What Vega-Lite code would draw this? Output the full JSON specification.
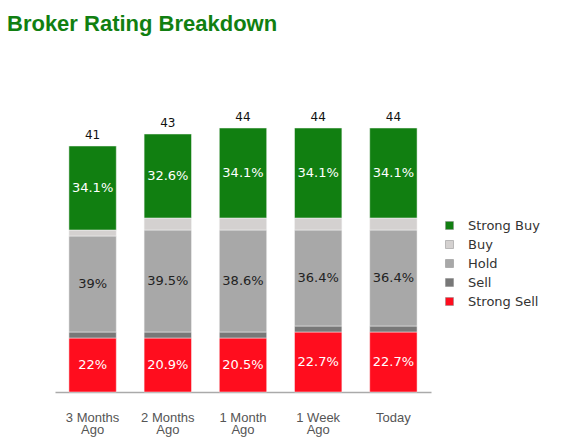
{
  "$schema": "https://vega.github.io/schema/vega-lite/v6.json",
  "autosize": {"type": "none"},
  "padding": {"left": 55, "top": 128, "right": 142, "bottom": 46},
  "width": 376,
  "height": 264,
  "background": "white",
  "view": {"stroke": null},
  "title": {
    "text": "Broker Rating Breakdown",
    "anchor": "start",
    "frame": "group",
    "font": "Liberation Sans",
    "fontSize": 22,
    "fontWeight": "bold",
    "color": "#117f11",
    "dx": -48,
    "offset": 75
  },
  "data": {
    "values": [
      {"period": "3 Months Ago", "rating": "Strong Sell", "rank": 1, "count": 9, "label": "22%"},
      {"period": "3 Months Ago", "rating": "Sell", "rank": 2, "count": 1, "label": ""},
      {"period": "3 Months Ago", "rating": "Hold", "rank": 3, "count": 16, "label": "39%"},
      {"period": "3 Months Ago", "rating": "Buy", "rank": 4, "count": 1, "label": ""},
      {"period": "3 Months Ago", "rating": "Strong Buy", "rank": 5, "count": 14, "label": "34.1%"},
      {"period": "2 Months Ago", "rating": "Strong Sell", "rank": 1, "count": 9, "label": "20.9%"},
      {"period": "2 Months Ago", "rating": "Sell", "rank": 2, "count": 1, "label": ""},
      {"period": "2 Months Ago", "rating": "Hold", "rank": 3, "count": 17, "label": "39.5%"},
      {"period": "2 Months Ago", "rating": "Buy", "rank": 4, "count": 2, "label": ""},
      {"period": "2 Months Ago", "rating": "Strong Buy", "rank": 5, "count": 14, "label": "32.6%"},
      {"period": "1 Month Ago", "rating": "Strong Sell", "rank": 1, "count": 9, "label": "20.5%"},
      {"period": "1 Month Ago", "rating": "Sell", "rank": 2, "count": 1, "label": ""},
      {"period": "1 Month Ago", "rating": "Hold", "rank": 3, "count": 17, "label": "38.6%"},
      {"period": "1 Month Ago", "rating": "Buy", "rank": 4, "count": 2, "label": ""},
      {"period": "1 Month Ago", "rating": "Strong Buy", "rank": 5, "count": 15, "label": "34.1%"},
      {"period": "1 Week Ago", "rating": "Strong Sell", "rank": 1, "count": 10, "label": "22.7%"},
      {"period": "1 Week Ago", "rating": "Sell", "rank": 2, "count": 1, "label": ""},
      {"period": "1 Week Ago", "rating": "Hold", "rank": 3, "count": 16, "label": "36.4%"},
      {"period": "1 Week Ago", "rating": "Buy", "rank": 4, "count": 2, "label": ""},
      {"period": "1 Week Ago", "rating": "Strong Buy", "rank": 5, "count": 15, "label": "34.1%"},
      {"period": "Today", "rating": "Strong Sell", "rank": 1, "count": 10, "label": "22.7%"},
      {"period": "Today", "rating": "Sell", "rank": 2, "count": 1, "label": ""},
      {"period": "Today", "rating": "Hold", "rank": 3, "count": 16, "label": "36.4%"},
      {"period": "Today", "rating": "Buy", "rank": 4, "count": 2, "label": ""},
      {"period": "Today", "rating": "Strong Buy", "rank": 5, "count": 15, "label": "34.1%"}
    ]
  },
  "encoding": {
    "x": {
      "field": "period",
      "type": "nominal",
      "sort": null,
      "scale": {"paddingInner": 0.37, "paddingOuter": 0.185},
      "axis": {
        "title": null,
        "labelAngle": 0,
        "ticks": false,
        "tickSize": 0,
        "labelPadding": 25,
        "labelBaseline": "middle",
        "labelFont": "Liberation Sans",
        "labelFontSize": 13,
        "labelColor": "#555555",
        "labelLineHeight": 12,
        "labelExpr": "indexof(datum.value, ' Ago') > 0 ? [replace(datum.value, ' Ago', ''), 'Ago'] : datum.value",
        "domainColor": "#aaaaaa",
        "domainWidth": 1.5,
        "grid": false
      }
    }
  },
  "layer": [
    {
      "mark": {"type": "bar", "stroke": "#f4f4f4", "strokeWidth": 0.5},
      "encoding": {
        "y": {"field": "count", "type": "quantitative", "stack": "zero", "scale": {"domain": [0, 44], "nice": false}, "axis": null},
        "color": {
          "field": "rating",
          "type": "nominal",
          "scale": {
            "domain": ["Strong Buy", "Buy", "Hold", "Sell", "Strong Sell"],
            "range": ["#117f11", "#d4d1d0", "#a8a8a8", "#787878", "#ff0d1e"]
          },
          "legend": {
            "title": null,
            "orient": "none",
            "legendX": 388,
            "legendY": 91,
            "symbolType": "square",
            "symbolSize": 64,
            "symbolStrokeWidth": 0.5,
            "symbolStrokeColor": "#888888",
            "labelFont": "DejaVu Sans",
            "labelFontSize": 13,
            "labelColor": "#333333",
            "labelOffset": 12,
            "rowPadding": 5
          }
        },
        "order": {"field": "rank", "type": "quantitative", "sort": "ascending"}
      }
    },
    {
      "mark": {"type": "text", "font": "DejaVu Sans", "fontSize": 13, "baseline": "middle"},
      "encoding": {
        "y": {"field": "count", "type": "quantitative", "stack": "zero", "bandPosition": 0.5},
        "text": {"field": "label"},
        "order": {"field": "rank", "type": "quantitative", "sort": "ascending"},
        "detail": {"field": "rating"},
        "color": {
          "condition": {"test": "datum.rating == 'Hold'", "value": "#222222"},
          "value": "#ffffff"
        }
      }
    },
    {
      "mark": {"type": "text", "font": "DejaVu Sans", "fontSize": 12, "baseline": "bottom", "dy": -4, "color": "#111111"},
      "encoding": {
        "y": {"aggregate": "sum", "field": "count", "type": "quantitative"},
        "text": {"aggregate": "sum", "field": "count", "type": "quantitative"}
      }
    }
  ]
}
